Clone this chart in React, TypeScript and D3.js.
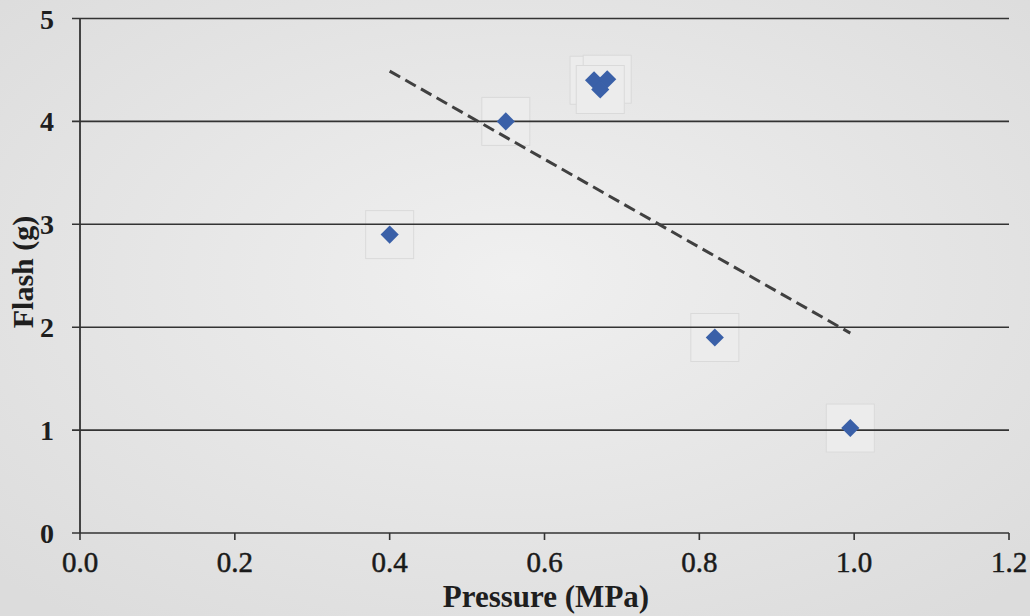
import React from "react";
import * as d3 from "d3";

const pressure = [0.40, 0.55, 0.664, 0.681, 0.672, 0.82, 0.995];
const flash = [2.9, 4.0, 4.40, 4.41, 4.31, 1.9, 1.02];
const xTicks = [0, 0.2, 0.4, 0.6, 0.8, 1.0, 1.2];
const yTicks = [0, 1, 2, 3, 4, 5];
const xTitle = "Pressure (MPa)";
const yTitle = "Flash (g)";

const W = 1030;
const H = 616;
const left = 80;
const right = 1009;
const top = 18.5;
const bottom = 533;

export default function App() {
  const x = d3.scaleLinear().domain([0, 1.2]).range([left, right]);
  const y = d3.scaleLinear().domain([0, 5]).range([bottom, top]);

  const pts = pressure.map((p, i) => ({ p, f: flash[i] }));
  const mx = d3.mean(pressure)!;
  const my = d3.mean(flash)!;
  let sxy = 0, sxx = 0;
  pts.forEach(({ p, f }) => {
    sxy += (p - mx) * (f - my);
    sxx += (p - mx) * (p - mx);
  });
  const slope = sxy / sxx;
  const icpt = my - slope * mx;
  const [xmin, xmax] = d3.extent(pressure) as [number, number];
  const trend = d3.line<number>().x((v) => x(v)).y((v) => y(icpt + slope * v))([xmin, xmax]);

  const diamond = d3.symbol().type(d3.symbolDiamond2).size(210)();
  const font = "'Liberation Serif', 'Times New Roman', serif";

  return (
    <svg
      width={W}
      height={H}
      style={{ position: "fixed", left: 0, top: 0, background: "#e5e5e5" }}
    >
      <defs>
        <radialGradient id="bg" cx="50%" cy="45%" r="70%">
          <stop offset="0%" stopColor="#f0f0f0" />
          <stop offset="100%" stopColor="#dcdcdc" />
        </radialGradient>
      </defs>
      <rect x={0} y={0} width={W} height={H} fill="url(#bg)" />
      {/* scan patches behind markers */}
      {pts.map((d, i) => (
        <rect
          key={"b" + i}
          x={x(d.p) - 24}
          y={y(d.f) - 24}
          width={48}
          height={48}
          fill="#ececec"
          stroke="#dadada"
          strokeWidth={1}
        />
      ))}
      {/* gridlines */}
      {yTicks.map((t) => (
        <line
          key={"g" + t}
          x1={left - 8}
          x2={right}
          y1={y(t)}
          y2={y(t)}
          stroke="#333"
          strokeWidth={1.6}
        />
      ))}
      {/* y axis */}
      <line x1={left} x2={left} y1={top} y2={bottom} stroke="#333" strokeWidth={1.8} />
      {/* x ticks */}
      {xTicks.map((t) => (
        <line
          key={"xt" + t}
          x1={x(t)}
          x2={x(t)}
          y1={bottom}
          y2={bottom + 7}
          stroke="#333"
          strokeWidth={1.6}
        />
      ))}
      {/* y tick labels */}
      {yTicks.map((t) => (
        <text
          key={"yl" + t}
          x={54}
          y={y(t)}
          dy="0.36em"
          textAnchor="end"
          fontFamily={font}
          fontWeight="bold"
          fontSize={28}
          fill="#1e1e1e"
        >
          {t}
        </text>
      ))}
      {/* x tick labels */}
      {xTicks.map((t) => (
        <text
          key={"xl" + t}
          x={x(t)}
          y={572}
          textAnchor="middle"
          fontFamily={font}
          fontSize={29}
          fill="#1a1a1a"
          stroke="#1a1a1a"
          strokeWidth={0.5}
        >
          {d3.format(".1f")(t)}
        </text>
      ))}
      {/* trend line */}
      <path d={trend || ""} fill="none" stroke="#404040" strokeWidth={3} strokeDasharray="12,6" />
      {/* markers */}
      {pts.map((d, i) => (
        <path
          key={"m" + i}
          d={diamond || ""}
          transform={`translate(${x(d.p)},${y(d.f)})`}
          fill="#3a60a8"
        />
      ))}
      {/* axis titles */}
      <text
        x={546}
        y={607}
        textAnchor="middle"
        fontFamily={font}
        fontWeight="bold"
        fontSize={31}
        fill="#1e1e1e"
      >
        {xTitle}
      </text>
      <text
        transform={`translate(33,272) rotate(-90)`}
        textAnchor="middle"
        fontFamily={font}
        fontWeight="bold"
        fontSize={30}
        fill="#1e1e1e"
      >
        {yTitle}
      </text>
    </svg>
  );
}
